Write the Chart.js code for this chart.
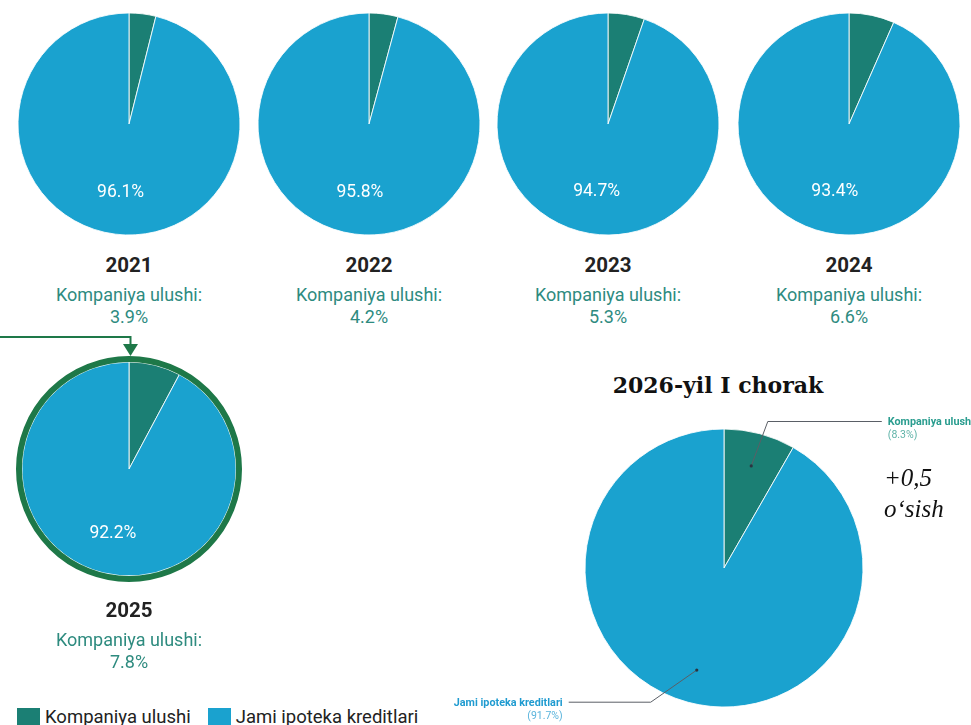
<!DOCTYPE html>
<html lang="uz">
<head>
<meta charset="utf-8">
<title>Kompaniya ulushi</title>
<script src="https://cdn.jsdelivr.net/npm/chart.js@4.4.1/dist/chart.umd.min.js"></script>
<style>
    html, body {
        margin: 0;
        padding: 0;
        width: 971px;
        height: 725px;
        overflow: hidden;
        background: #ffffff;
        font-family: Roboto, "Noto Sans", sans-serif;
    }
    canvas {
        position: absolute;
    }
    .txt {
        position: absolute;
        white-space: nowrap;
        transform: translate(-50%, -50%);
    }
    .year {
        font-size: 20.5px;
        font-weight: 700;
        color: #222222;
    }
    .share {
        font-size: 18px;
        color: #2e8b7f;
    }
    .title {
        font-family: "DejaVu Serif", serif;
        font-weight: 700;
        font-size: 22px;
        color: #111111;
    }
    .growth {
        position: absolute;
        font-family: "Liberation Serif", serif;
        font-style: italic;
        font-size: 25px;
        color: #111111;
        white-space: nowrap;
        transform: translateY(-50%);
    }
    .legend {
        position: absolute;
        top: 706px;
        left: 17px;
        display: flex;
        align-items: center;
        font-size: 18.5px;
        color: #222222;
        white-space: nowrap;
    }
    .legend span.box {
        display: inline-block;
        width: 23px;
        height: 18px;
        margin-right: 5px;
    }
    .legend span.item {
        margin-right: 17px;
    }
</style>
</head>
<body>

<script>
// ==================== DATOS ====================

const seriesLabels = ['Kompaniya ulushi', 'Jami ipoteka kreditlari'];
const years = ['2021', '2022', '2023', '2024', '2025'];
const companyShare = [3.9, 4.2, 5.3, 6.6, 7.8];
const mortgageTotal = [96.1, 95.8, 94.7, 93.4, 92.2];

const quarterTitle = '2026-yil I chorak';
const quarterValues = [8.3, 91.7];
const growthText = ['+0,5', 'o‘sish'];

const colors = ['#1b7f74', '#1aa2cf'];

// posiciones de cada pastel (centro y radio)
const layout = [
    { cx: 129, cy: 124, r: 111 },
    { cx: 369, cy: 124, r: 111 },
    { cx: 608, cy: 124, r: 111 },
    { cx: 849, cy: 124, r: 111 },
    { cx: 129, cy: 469, r: 107 }
];

// ==================== PLUGINS ====================

function arcProps(arc) {
    return arc.getProps(['x', 'y', 'startAngle', 'endAngle', 'outerRadius'], true);
}

// porcentaje blanco dentro del sector grande
const insideLabel = {
    id: 'insideLabel',
    afterDatasetsDraw(chart, args, opts) {
        if (!opts.show) return;
        const ctx = chart.ctx;
        const arc = chart.getDatasetMeta(0).data[1];
        const p = arcProps(arc);
        const mid = (p.startAngle + p.endAngle) / 2;
        const r = p.outerRadius * 0.62;
        const value = chart.data.datasets[0].data[1];
        ctx.save();
        ctx.fillStyle = '#ffffff';
        ctx.font = '17.5px Roboto';
        ctx.textAlign = 'center';
        ctx.textBaseline = 'middle';
        ctx.fillText(value.toFixed(1) + '%', p.x + Math.cos(mid) * r, p.y + Math.sin(mid) * r);
        ctx.restore();
    }
};

// anillo verde y flecha del año destacado
const highlight = {
    id: 'highlight',
    afterDatasetsDraw(chart, args, opts) {
        if (!opts.show) return;
        const ctx = chart.ctx;
        const p = arcProps(chart.getDatasetMeta(0).data[0]);
        const ringR = p.outerRadius + 3;
        ctx.save();
        ctx.strokeStyle = opts.color;
        ctx.lineWidth = 6;
        ctx.beginPath();
        ctx.arc(p.x, p.y, ringR, 0, Math.PI * 2);
        ctx.stroke();

        // flecha
        const tipY = p.y - ringR - 3;
        const ax = p.x + 1.5;
        ctx.lineWidth = 2;
        ctx.beginPath();
        ctx.moveTo(0, 7);
        ctx.lineTo(ax, 7);
        ctx.lineTo(ax, tipY - 11);
        ctx.stroke();
        ctx.fillStyle = opts.color;
        ctx.beginPath();
        ctx.moveTo(ax - 7.5, tipY - 12);
        ctx.lineTo(ax + 7.5, tipY - 12);
        ctx.lineTo(ax, tipY);
        ctx.closePath();
        ctx.fill();
        ctx.restore();
    }
};

// etiquetas con línea guía para el pastel del trimestre
const leaderLabels = {
    id: 'leaderLabels',
    afterDatasetsDraw(chart, args, opts) {
        if (!opts.items) return;
        const ctx = chart.ctx;
        const meta = chart.getDatasetMeta(0);
        const values = chart.data.datasets[0].data;
        ctx.save();
        opts.items.forEach((item, i) => {
            const p = arcProps(meta.data[i]);
            const mid = (p.startAngle + p.endAngle) / 2;
            const dot = {
                x: p.x + Math.cos(mid) * p.outerRadius * 0.76,
                y: p.y + Math.sin(mid) * p.outerRadius * 0.76
            };
            const a = mid + item.shift * Math.PI / 180;
            const elbow = {
                x: p.x + Math.cos(a) * p.outerRadius * 1.1,
                y: p.y + Math.sin(a) * p.outerRadius * 1.1
            };
            const endX = elbow.x + item.run;

            ctx.strokeStyle = '#5a5f66';
            ctx.lineWidth = 1;
            ctx.beginPath();
            ctx.moveTo(dot.x, dot.y);
            ctx.lineTo(elbow.x, elbow.y);
            ctx.lineTo(endX, elbow.y);
            ctx.stroke();

            ctx.fillStyle = '#2b3440';
            ctx.beginPath();
            ctx.arc(dot.x, dot.y, 1.6, 0, Math.PI * 2);
            ctx.fill();

            const dir = Math.sign(item.run);
            const tx = endX + dir * 6;
            ctx.textAlign = dir > 0 ? 'left' : 'right';
            ctx.textBaseline = 'middle';
            ctx.fillStyle = item.color;
            ctx.font = 'bold 10.8px Roboto';
            ctx.fillText(chart.data.labels[i], tx, elbow.y + 1);
            ctx.font = '10.5px Roboto';
            ctx.fillStyle = item.subColor;
            ctx.fillText('(' + values[i].toFixed(1) + '%)', tx, elbow.y + 14);
        });
        ctx.restore();
    }
};

// ==================== GRÁFICAS ====================

function addText(text, x, y, cls) {
    const el = document.createElement('div');
    el.className = 'txt ' + cls;
    el.style.left = x + 'px';
    el.style.top = y + 'px';
    el.textContent = text;
    document.body.appendChild(el);
    return el;
}

function createPie(left, top, width, height, radius, values, pluginOpts) {
    const canvas = document.createElement('canvas');
    canvas.width = width;
    canvas.height = height;
    canvas.style.left = left + 'px';
    canvas.style.top = top + 'px';
    document.body.appendChild(canvas);

    return new Chart(canvas, {
        type: 'pie',
        data: {
            labels: seriesLabels,
            datasets: [{
                data: values,
                backgroundColor: colors,
                borderColor: 'rgba(255, 255, 255, 0.85)',
                borderWidth: 1
            }]
        },
        options: {
            responsive: false,
            animation: false,
            devicePixelRatio: 1,
            radius: radius,
            events: [],
            plugins: Object.assign({
                legend: { display: false },
                tooltip: { enabled: false }
            }, pluginOpts)
        },
        plugins: [insideLabel, highlight, leaderLabels]
    });
}

years.forEach((year, i) => {
    const pos = layout[i];
    const last = i === years.length - 1;
    if (last) {
        // lienzo más grande para que quepa la flecha
        createPie(0, pos.cy - 139, pos.cx * 2, 278, pos.r, [companyShare[i], mortgageTotal[i]], {
            insideLabel: { show: true },
            highlight: { show: true, color: '#1e7848' }
        });
    } else {
        const size = 2 * pos.r + 8;
        createPie(pos.cx - size / 2, pos.cy - size / 2, size, size, pos.r, [companyShare[i], mortgageTotal[i]], {
            insideLabel: { show: true }
        });
    }
    addText(year, pos.cx, pos.cy + 141, 'year');
    addText(seriesLabels[0] + ':', pos.cx, pos.cy + 170, 'share');
    addText(companyShare[i].toFixed(1) + '%', pos.cx, pos.cy + 192, 'share');
});

// pastel del trimestre
createPie(440, 400, 568, 336, 139, quarterValues, {
    leaderLabels: {
        items: [
            { shift: 1.7, run: 114, color: '#2a9d8f', subColor: '#5fb3a8' },
            { shift: 13.7, run: -82, color: '#1f9bd0', subColor: '#5ab4dc' }
        ]
    }
});

addText(quarterTitle, 718, 385, 'title');

growthText.forEach((line, i) => {
    const el = document.createElement('div');
    el.className = 'growth';
    el.style.left = '884px';
    el.style.top = (478 + i * 31) + 'px';
    el.textContent = line;
    document.body.appendChild(el);
});

// leyenda
const legend = document.createElement('div');
legend.className = 'legend';
seriesLabels.forEach((label, i) => {
    const box = document.createElement('span');
    box.className = 'box';
    box.style.background = colors[i];
    const item = document.createElement('span');
    item.className = 'item';
    item.textContent = label;
    legend.appendChild(box);
    legend.appendChild(item);
});
document.body.appendChild(legend);
</script>
</body>
</html>
